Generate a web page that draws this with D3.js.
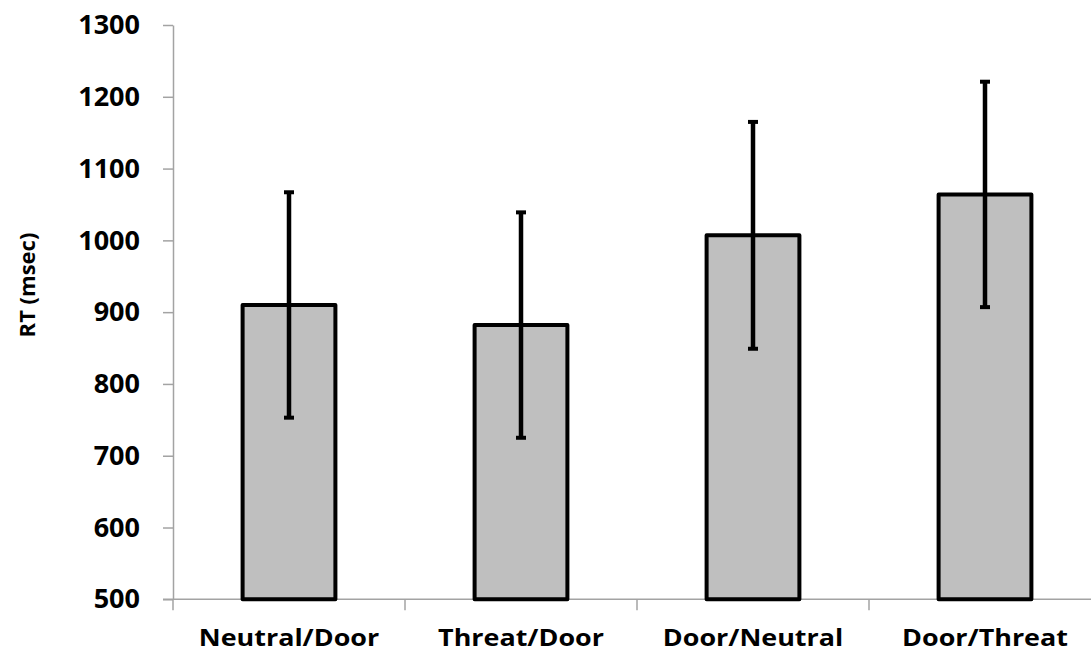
<!DOCTYPE html>
<html>
<head>
<meta charset="utf-8">
<script src="https://cdn.jsdelivr.net/npm/d3@7"></script>
<style>
  html, body { margin: 0; padding: 0; background: #fff; }
  svg { display: block; }
  text { font-family: "Open Sans", "Liberation Sans", sans-serif; font-weight: 700; fill: #000; }
</style>
</head>
<body>
<svg id="chart" width="1091" height="655"></svg>
<script>
// Mean reaction time per condition, with error (± SD) in msec
const conditions = ["Neutral/Door", "Threat/Door", "Door/Neutral", "Door/Threat"];
const meanRT = [910, 882, 1007, 1064];
const errRT = [157, 157, 158, 157];
const yTicks = [500, 600, 700, 800, 900, 1000, 1100, 1200, 1300];
const yTitle = "RT (msec)";

const svg = d3.select("#chart");
const plotLeft = 173, plotRight = 1101, plotTop = 25, plotBottom = 599.3;

const x = d3.scaleBand().domain(conditions).range([plotLeft, plotRight]).padding(0);
const y = d3.scaleLinear().domain([500, 1300]).range([plotBottom, plotTop]);
const barW = x.bandwidth() * 0.4;
const axisColor = "#a3a3a3";

// Y axis
const yAxis = svg.append("g")
  .attr("transform", `translate(${plotLeft},0)`)
  .call(d3.axisLeft(y).tickValues(yTicks).tickFormat(d3.format("d"))
    .tickSize(10).tickSizeOuter(0).tickPadding(23));
yAxis.select(".domain").attr("stroke", axisColor).attr("stroke-width", 1.5);
yAxis.selectAll(".tick line").attr("stroke", axisColor).attr("stroke-width", 1.5);
yAxis.selectAll(".tick text")
  .style("font-family", "'Open Sans', sans-serif")
  .style("font-weight", 700)
  .style("font-size", "27px")
  .attr("fill", "#000");

// X axis: ticks sit on the category boundaries
const bounds = conditions.map(c => x(c)).concat([plotRight]);
const xAxis = svg.append("g");
xAxis.append("line")
  .attr("x1", plotLeft - 10).attr("x2", plotRight)
  .attr("y1", plotBottom).attr("y2", plotBottom)
  .attr("stroke", axisColor).attr("stroke-width", 1.5);
xAxis.selectAll("line.tick").data(bounds).join("line")
  .attr("class", "tick")
  .attr("x1", d => d).attr("x2", d => d)
  .attr("y1", plotBottom).attr("y2", plotBottom + 11)
  .attr("stroke", axisColor).attr("stroke-width", 1.5);
xAxis.selectAll("text").data(conditions).join("text")
  .attr("transform", d => `translate(${x(d) + x.bandwidth() / 2},${plotBottom + 47}) scale(1.17,1)`)
  .attr("text-anchor", "middle")
  .style("font-size", "23px")
  .text(d => d);

// Bars
const data = conditions.map((c, i) => ({ c, m: meanRT[i], e: errRT[i] }));
svg.append("g").selectAll("rect").data(data).join("rect")
  .attr("x", d => x(d.c) + (x.bandwidth() - barW) / 2)
  .attr("width", barW)
  .attr("y", d => y(d.m))
  .attr("height", d => y(500) - y(d.m))
  .attr("fill", "#bfbfbf")
  .attr("stroke", "#000")
  .attr("stroke-width", 4)
  .attr("stroke-linejoin", "round");

// Error bars
const eb = svg.append("g").selectAll("g").data(data).join("g")
  .attr("transform", d => `translate(${x(d.c) + x.bandwidth() / 2},0)`);
eb.append("line")
  .attr("y1", d => y(d.m + d.e)).attr("y2", d => y(d.m - d.e))
  .attr("stroke", "#000").attr("stroke-width", 4.5);
eb.selectAll("line.cap").data(d => [d.m + d.e, d.m - d.e]).join("line")
  .attr("class", "cap")
  .attr("x1", -5).attr("x2", 5)
  .attr("y1", v => y(v)).attr("y2", v => y(v))
  .attr("stroke", "#000").attr("stroke-width", 4);

// Y axis title
svg.append("text")
  .attr("transform", `translate(35,285) rotate(-90)`)
  .attr("text-anchor", "middle")
  .style("font-size", "22px")
  .text(yTitle);
</script>
</body>
</html>
